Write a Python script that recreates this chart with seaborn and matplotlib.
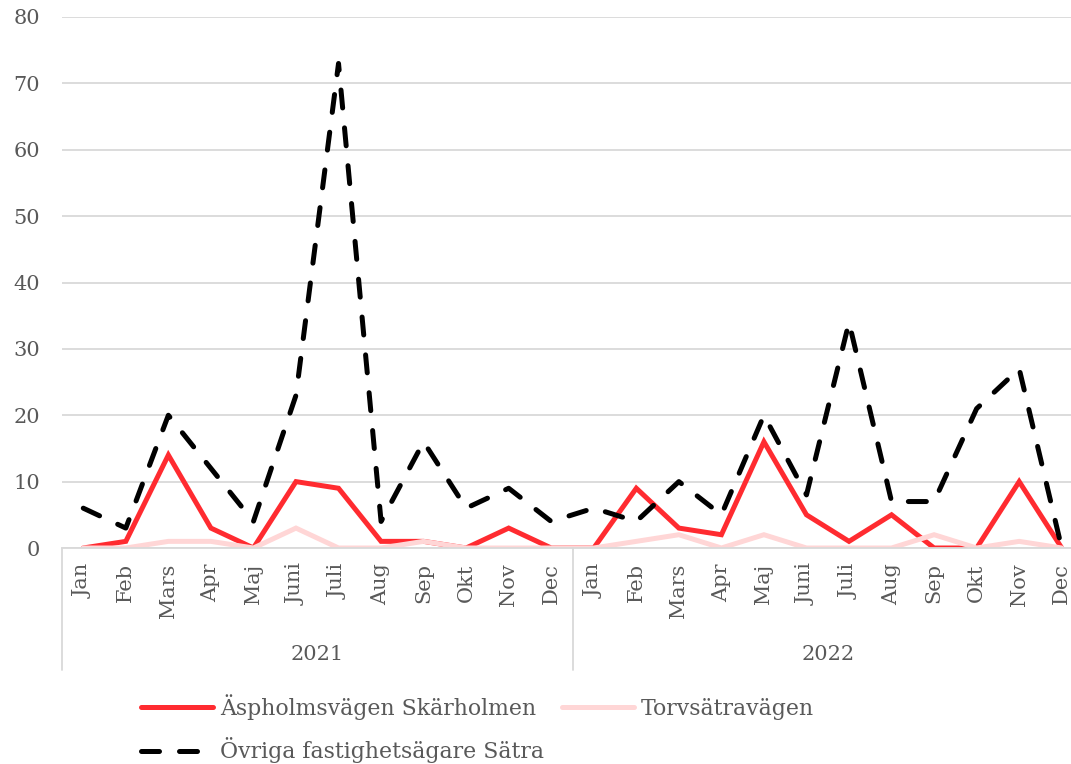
import matplotlib
matplotlib.use("Agg")
import matplotlib.pyplot as plt
import matplotlib.transforms as mtransforms
import seaborn as sns
import numpy as np
import pandas as pd

# Months and years on the grouped x axis
months = ["Jan", "Feb", "Mars", "Apr", "Maj", "Juni", "Juli", "Aug", "Sep", "Okt", "Nov", "Dec"]
years = ["2021", "2022"]

# Monthly counts per series (2021 followed by 2022)
aspholmsvagen = [0, 1, 14, 3, 0, 10, 9, 1, 1, 0, 3, 0,
                 0, 9, 3, 2, 16, 5, 1, 5, 0, 0, 10, 0]
torvsatravagen = [0, 0, 1, 1, 0, 3, 0, 0, 1, 0, 0, 0,
                  0, 1, 2, 0, 2, 0, 0, 0, 2, 0, 1, 0]
ovriga = [6, 3, 20, 12, 4, 23, 73, 4, 16, 6, 9, 4,
          6, 4, 10, 5, 20, 8, 34, 7, 7, 21, 27, 0]

series_names = ["Äspholmsvägen Skärholmen", "Torvsätravägen", "Övriga fastighetsägare Sätra"]

sns.set_theme(style="white")
plt.rcParams["font.family"] = ["DejaVu Serif", "DejaVu Sans"]

TEXT = "#595959"
GRID = "#D9D9D9"

n = len(months) * len(years)
x = np.arange(n)
df = pd.DataFrame({"idx": x,
                   "a": aspholmsvagen,
                   "t": torvsatravagen,
                   "o": ovriga})

fig = plt.figure(figsize=(10.71, 7.64), dpi=100)
W, H = 1071, 764
ax = fig.add_axes([62 / W, (H - 548) / H, (1083 - 62) / W, (548 - 17) / H])

LW = 3.6
sns.lineplot(data=df, x="idx", y="a", ax=ax, color="#FF2B30", lw=LW,
             label=series_names[0], solid_joinstyle="miter")
sns.lineplot(data=df, x="idx", y="t", ax=ax, color="#FFD6D6", lw=LW,
             label=series_names[1], solid_joinstyle="miter")
sns.lineplot(data=df, x="idx", y="o", ax=ax, color="black", lw=LW,
             label=series_names[2])
lines = ax.get_lines()
lines[2].set_dashes((3.6, 4.0))
lines[2].set_dash_capstyle("round")

ax.set_xlim(-0.5, n - 0.5)
ax.set_ylim(0, 80)
ax.set_yticks(np.arange(0, 81, 10))
ax.yaxis.grid(True, color=GRID, lw=1.3)
ax.set_axisbelow(True)
for s in ["top", "right", "left"]:
    ax.spines[s].set_visible(False)
ax.spines["bottom"].set_color(GRID)
ax.spines["bottom"].set_linewidth(1.3)

ax.tick_params(axis="y", length=0, pad=16, labelsize=15, labelcolor=TEXT)
ax.set_xticks(x)
ax.set_xticklabels(months * len(years), rotation=90, va="top", ha="center")
ax.tick_params(axis="x", length=0, pad=11, labelsize=15, labelcolor=TEXT)
ax.set_xlabel("")
ax.set_ylabel("")

# Year group labels and separators under the month labels
trans = mtransforms.blended_transform_factory(ax.transData, ax.transAxes)
for i, yr in enumerate(years):
    ax.text(i * 12 + 5.5, -(655 - 548) / 531, yr, transform=trans, ha="center",
            va="center", fontsize=15, color=TEXT)
for b in range(len(years) + 1):
    ax.plot([b * 12 - 0.5, b * 12 - 0.5], [0, -0.23], transform=trans,
            color=GRID, lw=1.3, clip_on=False)

ax.get_legend().remove()
order = [0, 2, 1]
handles = [lines[i] for i in order]
labels = [series_names[i] for i in order]
fig.legend(handles, labels, ncol=2, frameon=False, fontsize=15.8,
           loc="upper left", bbox_to_anchor=(141 / W, (H - 694) / H),
           borderaxespad=0, borderpad=0, handlelength=3.3, handletextpad=0.3,
           columnspacing=0.8, labelspacing=0.8, labelcolor=TEXT)

fig.savefig("out.png", dpi=100)
